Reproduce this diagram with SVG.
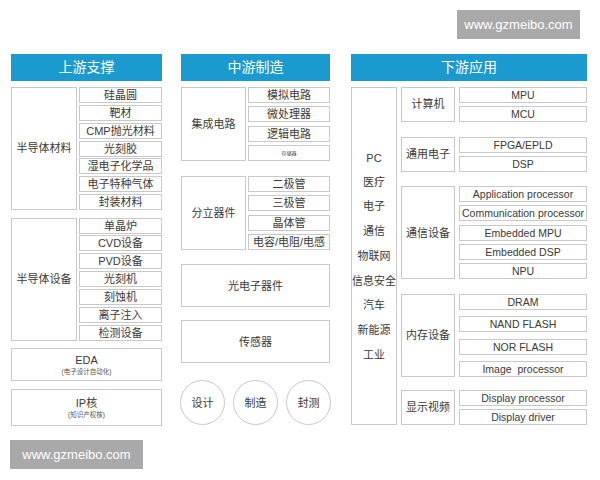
<svg xmlns="http://www.w3.org/2000/svg" width="600" height="480" viewBox="0 0 600 480">
<style>
.hd{fill:#1b9ad0}
.ht{font-family:"Noto Sans CJK SC","Noto Sans",sans-serif;font-size:14px;fill:#fff;text-anchor:middle}
.b{fill:#fff;stroke:#c9c9c9;stroke-width:1}
.t{font-family:"Liberation Sans","Noto Sans CJK SC",sans-serif;font-size:11px;fill:#3a3a3a;text-anchor:middle}
.e{font-family:"Liberation Sans","Noto Sans CJK SC",sans-serif;font-size:10.5px;fill:#3a3a3a;text-anchor:middle}
.s{font-family:"Liberation Sans","Noto Sans CJK SC",sans-serif;font-size:6.5px;fill:#555;text-anchor:middle}
.wm{fill:#a9a9a9}
.wt{font-family:"Liberation Sans",sans-serif;font-size:13px;fill:#fff;text-anchor:middle}
</style>
<rect width="600" height="480" fill="#fff"/>
<g id="wm1"><rect class="wm" x="457" y="10" width="123" height="29"/><text class="wt" x="518.5" y="29">www.gzmeibo.com</text></g>
<g id="wm2"><rect class="wm" x="10" y="440" width="133" height="29"/><text class="wt" x="76.5" y="459">www.gzmeibo.com</text></g>

<g id="h1"><rect class="hd" x="11" y="54" width="151" height="27"/><text class="ht" x="86.5" y="72">上游支撑</text></g>
<g id="h2"><rect class="hd" x="181" y="54" width="149" height="27"/><text class="ht" x="255.5" y="72">中游制造</text></g>
<g id="h3"><rect class="hd" x="351" y="54" width="236" height="27"/><text class="ht" x="469" y="72">下游应用</text></g>

<g id="mat"><rect class="b" x="11.5" y="87.5" width="65" height="122"/><text class="t" x="44" y="152">半导体材料</text></g>
<g id="mat-items">
<rect class="b" x="79.5" y="87.5" width="82" height="15"/><text class="t" x="120.5" y="99">硅晶圆</text>
<rect class="b" x="79.5" y="105.5" width="82" height="15"/><text class="t" x="120.5" y="117">靶材</text>
<rect class="b" x="79.5" y="123.5" width="82" height="15"/><text class="t" x="120.5" y="135">CMP抛光材料</text>
<rect class="b" x="79.5" y="141.5" width="82" height="15"/><text class="t" x="120.5" y="153">光刻胶</text>
<rect class="b" x="79.5" y="158.5" width="82" height="15"/><text class="t" x="120.5" y="170">湿电子化学品</text>
<rect class="b" x="79.5" y="176.5" width="82" height="15"/><text class="t" x="120.5" y="188">电子特种气体</text>
<rect class="b" x="79.5" y="194.5" width="82" height="15"/><text class="t" x="120.5" y="206">封装材料</text>
</g>
<g id="eqp"><rect class="b" x="11.5" y="218.5" width="65" height="122"/><text class="t" x="44" y="283">半导体设备</text></g>
<g id="eqp-items">
<rect class="b" x="79.5" y="218.5" width="82" height="15"/><text class="t" x="120.5" y="230">单晶炉</text>
<rect class="b" x="79.5" y="235.5" width="82" height="15"/><text class="t" x="120.5" y="247">CVD设备</text>
<rect class="b" x="79.5" y="253.5" width="82" height="15"/><text class="t" x="120.5" y="265">PVD设备</text>
<rect class="b" x="79.5" y="271.5" width="82" height="15"/><text class="t" x="120.5" y="283">光刻机</text>
<rect class="b" x="79.5" y="289.5" width="82" height="15"/><text class="t" x="120.5" y="301">刻蚀机</text>
<rect class="b" x="79.5" y="307.5" width="82" height="15"/><text class="t" x="120.5" y="319">离子注入</text>
<rect class="b" x="79.5" y="325.5" width="82" height="15"/><text class="t" x="120.5" y="337">检测设备</text>
</g>
<g id="eda"><rect class="b" x="11.5" y="348.5" width="150" height="32"/><text class="t" x="86.5" y="364">EDA</text><text class="s" x="86.5" y="374">(电子设计自动化)</text></g>
<g id="ip"><rect class="b" x="11.5" y="389.5" width="150" height="36"/><text class="t" x="86.5" y="407">IP核</text><text class="s" x="86.5" y="417">(知识产权核)</text></g>

<g id="ic"><rect class="b" x="181.5" y="87.5" width="64" height="73"/><text class="t" x="213.5" y="128">集成电路</text></g>
<g id="ic-items">
<rect class="b" x="248.5" y="87.5" width="81" height="15"/><text class="t" x="289" y="99">模拟电路</text>
<rect class="b" x="248.5" y="106.5" width="81" height="15"/><text class="t" x="289" y="118">微处理器</text>
<rect class="b" x="248.5" y="126.5" width="81" height="15"/><text class="t" x="289" y="138">逻辑电路</text>
<rect class="b" x="248.5" y="145.5" width="81" height="15"/><text class="t" x="289" y="155" style="font-size:5px">存储器</text>
</g>
<g id="disc"><rect class="b" x="181.5" y="176.5" width="64" height="73"/><text class="t" x="213.5" y="217">分立器件</text></g>
<g id="disc-items">
<rect class="b" x="248.5" y="176.5" width="81" height="15"/><text class="t" x="289" y="188">二极管</text>
<rect class="b" x="248.5" y="195.5" width="81" height="15"/><text class="t" x="289" y="207">三极管</text>
<rect class="b" x="248.5" y="215.5" width="81" height="15"/><text class="t" x="289" y="227">晶体管</text>
<rect class="b" x="248.5" y="234.5" width="81" height="15"/><text class="t" x="289" y="246">电容/电阻/电感</text>
</g>
<g id="opto"><rect class="b" x="181.5" y="264.5" width="148" height="42"/><text class="t" x="255.5" y="290">光电子器件</text></g>
<g id="sensor"><rect class="b" x="181.5" y="320.5" width="148" height="42"/><text class="t" x="255.5" y="346">传感器</text></g>
<g id="c1"><circle class="b" cx="202.5" cy="402.5" r="22"/><text class="t" x="202.5" y="406.5">设计</text></g>
<g id="c2"><circle class="b" cx="255.5" cy="402.5" r="22"/><text class="t" x="255.5" y="406.5">制造</text></g>
<g id="c3"><circle class="b" cx="308.5" cy="402.5" r="22"/><text class="t" x="308.5" y="406.5">封测</text></g>

<g id="apps"><rect class="b" x="351.5" y="87.5" width="45" height="337"/>
<text class="t" x="374" y="162">PC</text>
<text class="t" x="374" y="186">医疗</text>
<text class="t" x="374" y="210">电子</text>
<text class="t" x="374" y="235">通信</text>
<text class="t" x="374" y="260">物联网</text>
<text class="t" x="374" y="285">信息安全</text>
<text class="t" x="374" y="309">汽车</text>
<text class="t" x="374" y="334">新能源</text>
<text class="t" x="374" y="359">工业</text>
</g>
<g id="comp"><rect class="b" x="401.5" y="87.5" width="53" height="34"/><text class="t" x="428" y="108">计算机</text></g>
<g id="comp-items">
<rect class="b" x="459.5" y="87.5" width="127" height="15"/><text class="e" x="523" y="99">MPU</text>
<rect class="b" x="459.5" y="106.5" width="127" height="15"/><text class="e" x="523" y="118">MCU</text>
</g>
<g id="gen"><rect class="b" x="401.5" y="137.5" width="53" height="34"/><text class="t" x="428" y="158">通用电子</text></g>
<g id="gen-items">
<rect class="b" x="459.5" y="137.5" width="127" height="15"/><text class="e" x="523" y="149">FPGA/EPLD</text>
<rect class="b" x="459.5" y="156.5" width="127" height="15"/><text class="e" x="523" y="168">DSP</text>
</g>
<g id="comm"><rect class="b" x="401.5" y="186.5" width="53" height="92"/><text class="t" x="428" y="237">通信设备</text></g>
<g id="comm-items">
<rect class="b" x="459.5" y="186.5" width="127" height="15"/><text class="e" x="523" y="198">Application processor</text>
<rect class="b" x="459.5" y="205.5" width="127" height="15"/><text class="e" x="523" y="217">Communication processor</text>
<rect class="b" x="459.5" y="225.5" width="127" height="15"/><text class="e" x="523" y="237">Embedded MPU</text>
<rect class="b" x="459.5" y="244.5" width="127" height="15"/><text class="e" x="523" y="256">Embedded DSP</text>
<rect class="b" x="459.5" y="263.5" width="127" height="15"/><text class="e" x="523" y="275">NPU</text>
</g>
<g id="mem"><rect class="b" x="401.5" y="294.5" width="53" height="82"/><text class="t" x="428" y="339">内存设备</text></g>
<g id="mem-items">
<rect class="b" x="459.5" y="294.5" width="127" height="15"/><text class="e" x="523" y="306">DRAM</text>
<rect class="b" x="459.5" y="316.5" width="127" height="15"/><text class="e" x="523" y="328">NAND FLASH</text>
<rect class="b" x="459.5" y="339.5" width="127" height="15"/><text class="e" x="523" y="351">NOR FLASH</text>
<rect class="b" x="459.5" y="361.5" width="127" height="15"/><text class="e" x="523" y="373" xml:space="preserve">Image  processor</text>
</g>
<g id="disp"><rect class="b" x="401.5" y="390.5" width="53" height="34"/><text class="t" x="428" y="411">显示视频</text></g>
<g id="disp-items">
<rect class="b" x="459.5" y="390.5" width="127" height="15"/><text class="e" x="523" y="402">Display processor</text>
<rect class="b" x="459.5" y="409.5" width="127" height="15"/><text class="e" x="523" y="421">Display driver</text>
</g>
<g id="connectors"/>
</svg>
